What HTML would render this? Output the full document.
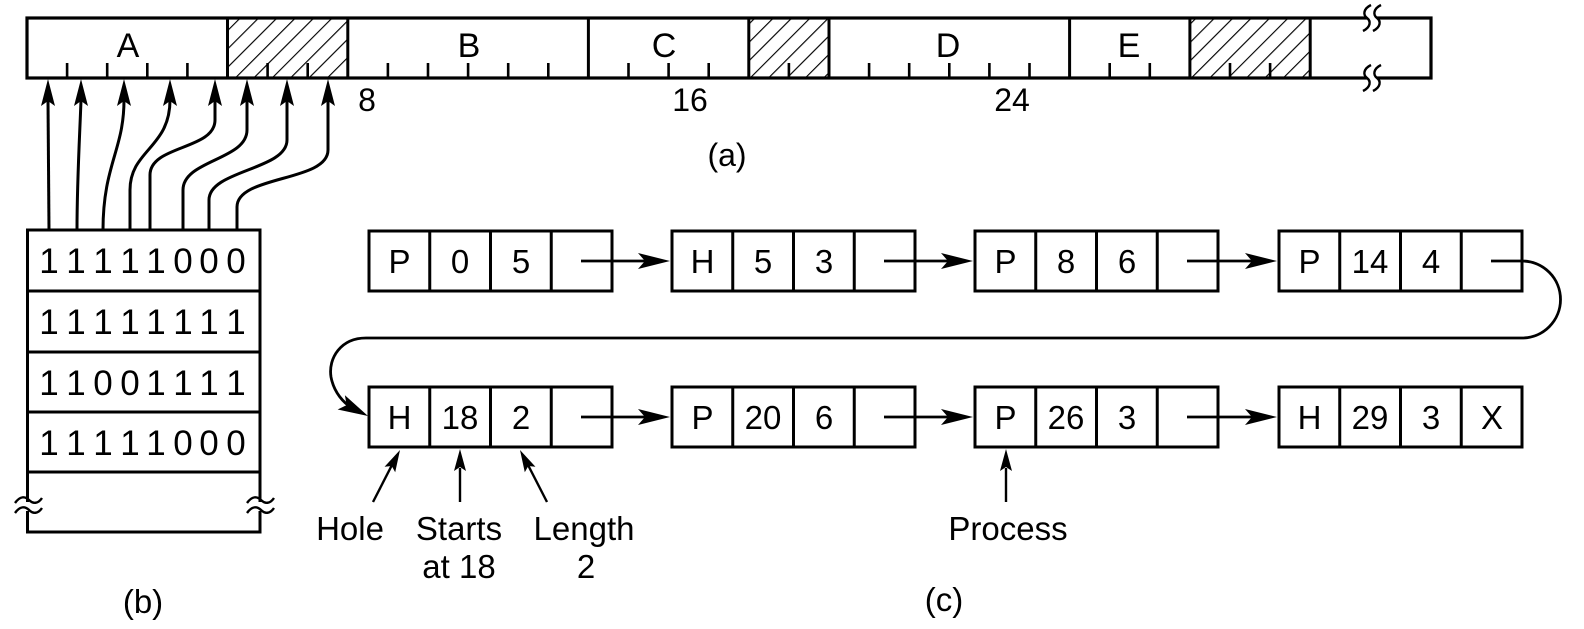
<!DOCTYPE html>
<html>
<head>
<meta charset="utf-8">
<style>
  html,body{margin:0;padding:0;background:#fff;}
  svg{display:block;}
  text{font-family:"Liberation Sans",Arial,sans-serif;fill:#000;}
</style>
</head>
<body>
<svg width="1584" height="629" viewBox="0 0 1584 629" xmlns="http://www.w3.org/2000/svg">
  <defs>
    <pattern id="hatch" patternUnits="userSpaceOnUse" width="13" height="13" patternTransform="rotate(45)">
      <line x1="0" y1="-2" x2="0" y2="15" stroke="#000" stroke-width="2.3"/>
    </pattern>
  </defs>

  <!-- ============ (a) memory bar ============ -->
  <g>
    <rect x="227.5" y="18" width="120.3" height="60" fill="url(#hatch)"/>
    <rect x="748.8" y="18" width="80.2" height="60" fill="url(#hatch)"/>
    <rect x="1189.9" y="18" width="120.3" height="60" fill="url(#hatch)"/>
    <g stroke="#000" stroke-width="2.6" fill="none">
      <path d="M67.1,78V63 M107.2,78V63 M147.3,78V63 M187.4,78V63
               M267.6,78V63 M307.7,78V63
               M387.9,78V63 M428,78V63 M468.1,78V63 M508.2,78V63 M548.3,78V63
               M628.5,78V63 M668.6,78V63 M708.7,78V63
               M788.9,78V63
               M869.1,78V63 M909.2,78V63 M949.3,78V63 M989.4,78V63 M1029.5,78V63
               M1109.7,78V63 M1149.8,78V63
               M1230,78V63 M1270.1,78V63"/>
      <path d="M227.5,18V78 M347.8,18V78 M588.4,18V78 M748.8,18V78 M829,18V78 M1069.6,18V78 M1189.9,18V78 M1310.2,18V78" stroke-width="3"/>
      <rect x="27" y="18" width="1404" height="60" stroke-width="3.2"/>
    </g>
    <rect x="1367" y="12" width="10" height="12" fill="#fff"/>
    <rect x="1367" y="72" width="10" height="12" fill="#fff"/>
    <g stroke="#000" stroke-width="2.4" fill="none">
      <path d="M1371,5 C1363,9 1363,15 1367,18 C1371,21 1371,27 1363,31"/>
      <path d="M1381,5 C1373,9 1373,15 1377,18 C1381,21 1381,27 1373,31"/>
      <path d="M1371,65 C1363,69 1363,75 1367,78 C1371,81 1371,87 1363,91"/>
      <path d="M1381,65 C1373,69 1373,75 1377,78 C1381,81 1381,87 1373,91"/>
    </g>
    <g font-size="34" text-anchor="middle">
      <text x="128" y="57">A</text>
      <text x="469" y="57">B</text>
      <text x="664" y="57">C</text>
      <text x="948" y="57">D</text>
      <text x="1129" y="57">E</text>
    </g>
    <g font-size="32" text-anchor="middle">
      <text x="367" y="111">8</text>
      <text x="690" y="111">16</text>
      <text x="1012" y="111">24</text>
      <text x="727" y="166">(a)</text>
    </g>
  </g>

  <!-- ============ bitmap arrows ============ -->
  <g stroke="#000" stroke-width="3" fill="none">
    <path d="M49,230 L48,100"/>
    <path d="M77,230 C77,180 80,130 81,100"/>
    <path d="M103,230 C103,165 124,150 124,100"/>
    <path d="M130,230 L130,190 C130,150 170,148 170,100"/>
    <path d="M150,230 L150,175 C150,145 215,150 215,120 L215,100"/>
    <path d="M183,230 L183,190 C183,160 247,160 247,130 L247,100"/>
    <path d="M209,230 L209,200 C209,170 287,170 287,140 L287,100"/>
    <path d="M237,230 L237,207 C237,175 328,182 328,150 L328,100"/>
  </g>
  <g fill="#000">
    <polygon points="48,79 41,106 48,101 55,106"/>
    <polygon points="81,79 74,106 81,101 88,106"/>
    <polygon points="124,79 117,106 124,101 131,106"/>
    <polygon points="170,79 163,106 170,101 177,106"/>
    <polygon points="215,79 208,106 215,101 222,106"/>
    <polygon points="247,79 240,106 247,101 254,106"/>
    <polygon points="287,79 280,106 287,101 294,106"/>
    <polygon points="328,79 321,106 328,101 335,106"/>
  </g>

  <!-- ============ (b) bitmap ============ -->
  <g stroke="#000" stroke-width="3" fill="none">
    <rect x="27.5" y="230" width="232.5" height="302"/>
    <path d="M27.5,291H260 M27.5,352H260 M27.5,412H260 M27.5,472H260"/>
  </g>
  <rect x="22" y="502" width="12" height="9" fill="#fff"/>
  <rect x="254" y="502" width="12" height="9" fill="#fff"/>
  <g stroke="#000" stroke-width="2.4" fill="none">
    <path d="M15,503 C20,496 25,496 29,500 C33,504 38,504 42,498"/>
    <path d="M15,513 C20,506 25,506 29,510 C33,514 38,514 42,508"/>
    <path d="M247,503 C252,496 257,496 261,500 C265,504 270,504 274,498"/>
    <path d="M247,513 C252,506 257,506 261,510 C265,514 270,514 274,508"/>
  </g>
  <g font-size="35" text-anchor="middle">
    <text y="273"><tspan x="49">1</tspan><tspan x="76">1</tspan><tspan x="103">1</tspan><tspan x="130">1</tspan><tspan x="156">1</tspan><tspan x="183">0</tspan><tspan x="209">0</tspan><tspan x="236">0</tspan></text>
    <text y="334"><tspan x="49">1</tspan><tspan x="76">1</tspan><tspan x="103">1</tspan><tspan x="130">1</tspan><tspan x="156">1</tspan><tspan x="183">1</tspan><tspan x="209">1</tspan><tspan x="236">1</tspan></text>
    <text y="395"><tspan x="49">1</tspan><tspan x="76">1</tspan><tspan x="103">0</tspan><tspan x="130">0</tspan><tspan x="156">1</tspan><tspan x="183">1</tspan><tspan x="209">1</tspan><tspan x="236">1</tspan></text>
    <text y="455"><tspan x="49">1</tspan><tspan x="76">1</tspan><tspan x="103">1</tspan><tspan x="130">1</tspan><tspan x="156">1</tspan><tspan x="183">0</tspan><tspan x="209">0</tspan><tspan x="236">0</tspan></text>
  </g>
  <text x="143" y="613" font-size="33" text-anchor="middle">(b)</text>

  <!-- ============ (c) linked list ============ -->
  <g stroke="#000" stroke-width="3" fill="none">
    <rect x="369" y="231" width="243" height="60"/>
    <path d="M429.75,231V291 M490.5,231V291 M551.25,231V291"/>
    <rect x="672" y="231" width="243" height="60"/>
    <path d="M732.75,231V291 M793.5,231V291 M854.25,231V291"/>
    <rect x="975" y="231" width="243" height="60"/>
    <path d="M1035.75,231V291 M1096.5,231V291 M1157.25,231V291"/>
    <rect x="1279" y="231" width="243" height="60"/>
    <path d="M1339.75,231V291 M1400.5,231V291 M1461.25,231V291"/>
    <rect x="369" y="387" width="243" height="60"/>
    <path d="M429.75,387V447 M490.5,387V447 M551.25,387V447"/>
    <rect x="672" y="387" width="243" height="60"/>
    <path d="M732.75,387V447 M793.5,387V447 M854.25,387V447"/>
    <rect x="975" y="387" width="243" height="60"/>
    <path d="M1035.75,387V447 M1096.5,387V447 M1157.25,387V447"/>
    <rect x="1279" y="387" width="243" height="60"/>
    <path d="M1339.75,387V447 M1400.5,387V447 M1461.25,387V447"/>
  </g>

  <g stroke="#000" stroke-width="2.8" fill="none">
    <path d="M581,261H648"/>
    <path d="M884,261H951"/>
    <path d="M1187,261H1254"/>
    <path d="M581,417H648"/>
    <path d="M884,417H951"/>
    <path d="M1187,417H1254"/>
    <path d="M1491,261 L1522,261 A38.5,38.5 0 0 1 1522,338 L366,338 C341,338 328,358 331,377 C334,393 344,403 352,408"/>
  </g>
  <g fill="#000">
    <polygon points="670,261 638,253 645,261 638,269"/>
    <polygon points="973,261 941,253 948,261 941,269"/>
    <polygon points="1277,261 1245,253 1252,261 1245,269"/>
    <polygon points="670,417 638,409 645,417 638,425"/>
    <polygon points="973,417 941,409 948,417 941,425"/>
    <polygon points="1277,417 1245,409 1252,417 1245,425"/>
    <g transform="translate(368,416) rotate(27)">
      <polygon points="0,0 -30,-8 -24,0 -30,8"/>
    </g>
  </g>

  <g font-size="33" text-anchor="middle">
    <text y="273"><tspan x="399.5">P</tspan><tspan x="460">0</tspan><tspan x="521">5</tspan></text>
    <text y="273"><tspan x="702.5">H</tspan><tspan x="763">5</tspan><tspan x="824">3</tspan></text>
    <text y="273"><tspan x="1005.5">P</tspan><tspan x="1066">8</tspan><tspan x="1127">6</tspan></text>
    <text y="273"><tspan x="1309.5">P</tspan><tspan x="1370">14</tspan><tspan x="1431">4</tspan></text>
    <text y="429"><tspan x="399.5">H</tspan><tspan x="460">18</tspan><tspan x="521">2</tspan></text>
    <text y="429"><tspan x="702.5">P</tspan><tspan x="763">20</tspan><tspan x="824">6</tspan></text>
    <text y="429"><tspan x="1005.5">P</tspan><tspan x="1066">26</tspan><tspan x="1127">3</tspan></text>
    <text y="429"><tspan x="1309.5">H</tspan><tspan x="1370">29</tspan><tspan x="1431">3</tspan><tspan x="1492">X</tspan></text>
  </g>

  <g stroke="#000" stroke-width="2.4" fill="none">
    <path d="M373,502 L393,463"/>
    <path d="M460,502 L460,468"/>
    <path d="M547,502 L527,463"/>
    <path d="M1006,502 L1006,468"/>
  </g>
  <g fill="#000">
    <g transform="translate(400,450) rotate(-62.6)"><polygon points="0,0 -22,-6 -18,0 -22,6"/></g>
    <g transform="translate(460,449) rotate(-90)"><polygon points="0,0 -22,-6 -18,0 -22,6"/></g>
    <g transform="translate(520,450) rotate(-117.4)"><polygon points="0,0 -22,-6 -18,0 -22,6"/></g>
    <g transform="translate(1006,449) rotate(-90)"><polygon points="0,0 -22,-6 -18,0 -22,6"/></g>
  </g>

  <g font-size="33" text-anchor="middle">
    <text x="350" y="540">Hole</text>
    <text x="459" y="540">Starts</text>
    <text x="459" y="578">at 18</text>
    <text x="584" y="540">Length</text>
    <text x="586" y="578">2</text>
    <text x="1008" y="540">Process</text>
    <text x="944" y="611">(c)</text>
  </g>
</svg>
</body>
</html>
